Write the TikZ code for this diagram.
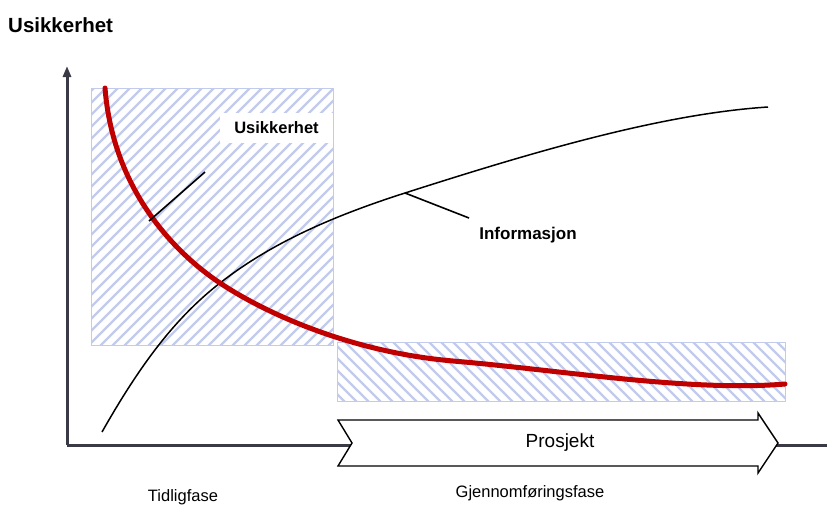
\documentclass[tikz,border=0pt]{standalone}
\usepackage{fontspec}
\setmainfont{Liberation Sans}
\usetikzlibrary{arrows.meta}
\definecolor{axisgray}{HTML}{3A3A46}
\definecolor{hatchblue}{HTML}{C2CBEC}
\definecolor{curvered}{HTML}{C00000}
\tikzset{
  axisline/.style={axisgray, line width=3pt},
  hatchline/.style={hatchblue, line width=2.2pt},
  hatchframe/.style={hatchblue, line width=1pt},
  uncert/.style={curvered, line width=5pt, line cap=round},
  info/.style={black, line width=1.5pt},
  leader/.style={black, line width=1.6pt},
  boldlabel/.style={font=\fontsize{16.5}{19}\selectfont\bfseries, inner sep=0pt},
  phaselabel/.style={font=\fontsize{16.5}{19}\selectfont, inner sep=0pt},
}
\begin{document}
\begin{tikzpicture}[x=1pt,y=-1pt]
\useasboundingbox (0,0) rectangle (827,504);

% title of the vertical axis
\node[font=\fontsize{20.5}{24}\selectfont\bfseries, anchor=west, inner sep=0pt] (title) at (8,25) {Usikkerhet};

% early phase: hatched block
\begin{scope}
  \clip (91,88) rectangle (333,345);
  \foreach \c in {-190,-178,...,340} \draw[hatchline] (\c,348) -- ++(264,-264);
\end{scope}
\draw[hatchframe] (91,88) rectangle (333,345);

% execution phase: hatched block
\begin{scope}
  \clip (337,342) rectangle (785,401);
  \foreach \c in {270,282,...,790} \draw[hatchline] (\c,339) -- ++(65,65);
\end{scope}
\draw[hatchframe] (337,342) rectangle (785,401);

% axes
\coordinate (origin) at (67,445);
\coordinate (ytop) at (67,66);
\coordinate (xend) at (830,445);
\draw[axisline] (origin) -- (xend);
\draw[axisline, -{Triangle[length=11pt,width=8pt]}] (origin) -- (ytop);

% project arrow
\draw[black, line width=1.4pt, fill=white]
  (338,420) -- (758,420) -- (758,413) -- (778,443) -- (758,473) -- (758,466)
  -- (338,466) -- (352,443) -- cycle;
\node[font=\fontsize{19}{22}\selectfont, inner sep=0pt] (proj) at (560,443) {Prosjekt};

% information curve
\draw[info] (102,432) .. controls (140,365) and (175,318) .. (220,283)
  .. controls (270,244) and (330,217) .. (405,193)
  .. controls (530,153) and (660,114) .. (768,107);

% uncertainty curve
\draw[uncert] (105,88) .. controls (113,190) and (175,253) .. (220,283)
  .. controls (265,313) and (350,352) .. (453,361)
  .. controls (560,370) and (690,392) .. (785,384);

% labels with leaders
\node[fill=white, minimum width=113pt, minimum height=30pt, inner sep=0pt] (ubox) at (276.5,128) {};
\node[boldlabel] (ulabel) at (ubox) {Usikkerhet};
\coordinate (uA) at (205,172);
\coordinate (uB) at (149,221);
\draw[leader] (uA) -- (uB);

\node[boldlabel, font=\fontsize{17}{20}\selectfont\bfseries] (ilabel) at (528,235) {Informasjon};
\coordinate (iA) at (405,193);
\coordinate (iB) at (469,218);
\draw[leader] (iA) -- (iB);

% phase names
\node[phaselabel] (early) at (183,497) {Tidligfase};
\node[phaselabel] (exec) at (530,493) {Gjennomføringsfase};
\end{tikzpicture}
\end{document}
